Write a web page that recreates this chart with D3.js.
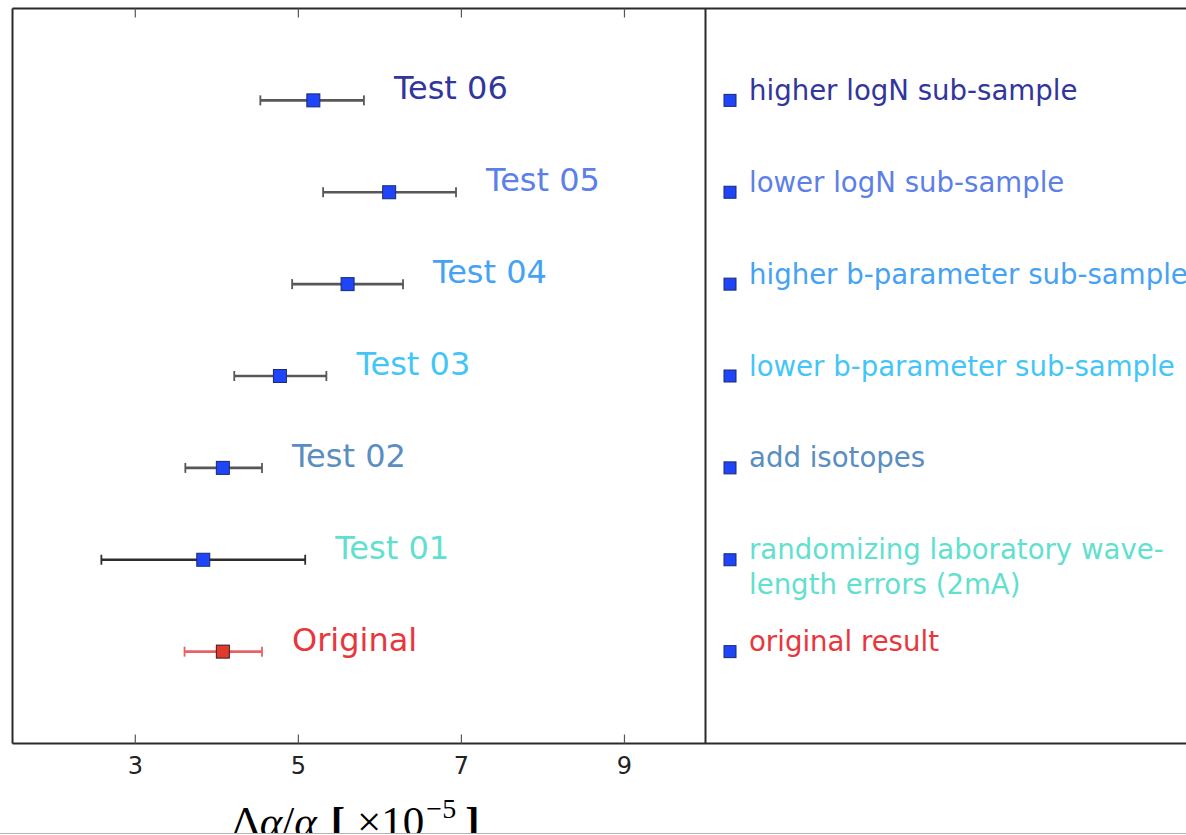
<!DOCTYPE html>
<html>
<head>
<meta charset="utf-8">
<script src="https://cdn.jsdelivr.net/npm/d3@7"></script>
<style>
  html, body { margin: 0; padding: 0; background: #fff; }
  svg { display: block; }
</style>
</head>
<body>
<svg id="chart" width="1186" height="835"></svg>
<script>
// Δα/α results for each robustness test (units of 1e-5)
const names    = ["Original", "Test 01", "Test 02", "Test 03", "Test 04", "Test 05", "Test 06"];
const values   = [4.08, 3.84, 4.08, 4.78, 5.61, 6.12, 5.19];
const errLow   = [3.61, 2.59, 3.62, 4.22, 4.93, 5.31, 4.54];
const errHigh  = [4.56, 5.09, 4.56, 5.35, 6.29, 6.94, 5.81];
const notes    = [
  ["original result"],
  ["randomizing laboratory wave-", "length errors (2mA)"],
  ["add isotopes"],
  ["lower b-parameter sub-sample"],
  ["higher b-parameter sub-sample"],
  ["lower logN sub-sample"],
  ["higher logN sub-sample"]
];
const labelColors = ["#e8373c", "#62e0cf", "#5a8dc0", "#43c6f7", "#45a2f4", "#5d7fe8", "#32359c"];
const xTicks = [3, 5, 7, 9];

const svg = d3.select("#chart");

// plot frame
const frameLeft = 12.5, frameTop = 8.5, frameBottom = 743.5, divider = 705.5, frameRight = 1200;

const x = d3.scaleLinear().domain([1.5, 10]).range([frameLeft, divider]);
const y = d3.scaleLinear().domain([-1, 7]).range([frameBottom, frameTop]);
// right-hand description panel, as a fraction of its width
const xr = d3.scaleLinear().domain([0, 1]).range([divider, 1186]);

const rows = names.map((n, i) => ({
  name: n, v: values[i], lo: errLow[i], hi: errHigh[i],
  note: notes[i], color: labelColors[i], i
}));

// error bars
const barColor = i => i === 0 ? "#e86264" : (i === 1 ? "#2e2e2e" : "#575757");
const eb = svg.append("g");
rows.forEach(d => {
  const g = eb.append("g").attr("stroke", barColor(d.i)).attr("stroke-width", 2.6).attr("fill", "none");
  g.append("line").attr("x1", x(d.lo)).attr("x2", x(d.hi)).attr("y1", y(d.i)).attr("y2", y(d.i));
  g.append("line").attr("x1", x(d.lo)).attr("x2", x(d.lo)).attr("y1", y(d.i) - 5).attr("y2", y(d.i) + 5).attr("stroke-width", 1.8);
  g.append("line").attr("x1", x(d.hi)).attr("x2", x(d.hi)).attr("y1", y(d.i) - 5).attr("y2", y(d.i) + 5).attr("stroke-width", 1.8);
});

// markers
const ms = 13;
svg.append("g").selectAll("rect").data(rows).join("rect")
  .attr("x", d => x(d.v) - ms / 2).attr("y", d => y(d.i) - ms / 2)
  .attr("width", ms).attr("height", ms)
  .attr("fill", d => d.i === 0 ? "#e23a2c" : "#1f45fb")
  .attr("stroke", d => d.i === 0 ? "#3a1a1a" : "#1a2a6a").attr("stroke-width", 1);

// test labels beside each bar
svg.append("g").selectAll("text").data(rows).join("text")
  .attr("x", d => x(d.hi) + 30).attr("y", d => y(d.i) - 1)
  .attr("fill", d => d.color)
  .style("font-family", "'DejaVu Sans', sans-serif").style("font-size", "32px")
  .text(d => d.name);

// description panel
const rs = 12;
svg.append("g").selectAll("rect").data(rows).join("rect")
  .attr("x", xr(0.051) - rs / 2).attr("y", d => y(d.i) - rs / 2)
  .attr("width", rs).attr("height", rs)
  .attr("fill", "#1f45fb").attr("stroke", "#1a2a6a").attr("stroke-width", 1);

const notesG = svg.append("g").style("font-family", "'DejaVu Sans', sans-serif").style("font-size", "27.6px");
rows.forEach(d => {
  const t = notesG.append("text").attr("fill", d.color).attr("x", xr(0.0905)).attr("y", y(d.i) - 0.5);
  d.note.forEach((line, k) => {
    t.append("tspan").attr("x", xr(0.0905)).attr("dy", k === 0 ? 0 : 35).text(line);
  });
});

// frame lines
const frame = svg.append("g").attr("stroke", "#2a2a2a").attr("stroke-width", 2).attr("fill", "none");
frame.append("line").attr("x1", frameLeft).attr("x2", frameRight).attr("y1", frameTop).attr("y2", frameTop);
frame.append("line").attr("x1", frameLeft).attr("x2", frameRight).attr("y1", frameBottom).attr("y2", frameBottom);
frame.append("line").attr("x1", frameLeft).attr("x2", frameLeft).attr("y1", frameTop).attr("y2", frameBottom);
frame.append("line").attr("x1", divider).attr("x2", divider).attr("y1", frameTop).attr("y2", frameBottom);

// x axis with inward ticks, bottom and top
const axB = svg.append("g").attr("transform", `translate(0,${frameBottom})`)
  .call(d3.axisBottom(x).tickValues(xTicks).tickSize(-9).tickPadding(13).tickFormat(d3.format("d")));
axB.select(".domain").remove();
axB.selectAll(".tick line").attr("stroke", "#555").attr("stroke-width", 1.2);
axB.selectAll(".tick text").attr("fill", "#222")
  .style("font-family", "'DejaVu Sans', sans-serif").style("font-size", "24px");

const axT = svg.append("g").attr("transform", `translate(0,${frameTop})`)
  .call(d3.axisTop(x).tickValues(xTicks).tickSize(-9).tickFormat(""));
axT.select(".domain").remove();
axT.selectAll(".tick line").attr("stroke", "#555").attr("stroke-width", 1.2);

// x-axis title: Δα/α [ ×10^-5 ]
const title = svg.append("text").attr("x", 232).attr("y", 836)
  .attr("fill", "#000")
  .style("font-family", "'Liberation Serif', 'DejaVu Serif', serif").style("font-size", "43px");
title.append("tspan").text("Δ");
title.append("tspan").style("font-style", "italic").text("α");
title.append("tspan").text("/");
title.append("tspan").style("font-style", "italic").text("α");
title.append("tspan").attr("dx", 14).style("font-weight", "bold").text("[");
title.append("tspan").attr("dx", 12).text("×10");
title.append("tspan").attr("dy", -18).attr("dx", 2).style("font-size", "28px").text("−5");
title.append("tspan").attr("dy", 18).attr("dx", 9).style("font-weight", "bold").text("]");

// lower page edge
svg.append("rect").attr("x", 0).attr("y", 834).attr("width", 1186).attr("height", 2).attr("fill", "#fff");
svg.append("line").attr("x1", 0).attr("x2", 1186).attr("y1", 833.5).attr("y2", 833.5)
  .attr("stroke", "#b4b4b4").attr("stroke-width", 1.2);
</script>
</body>
</html>
